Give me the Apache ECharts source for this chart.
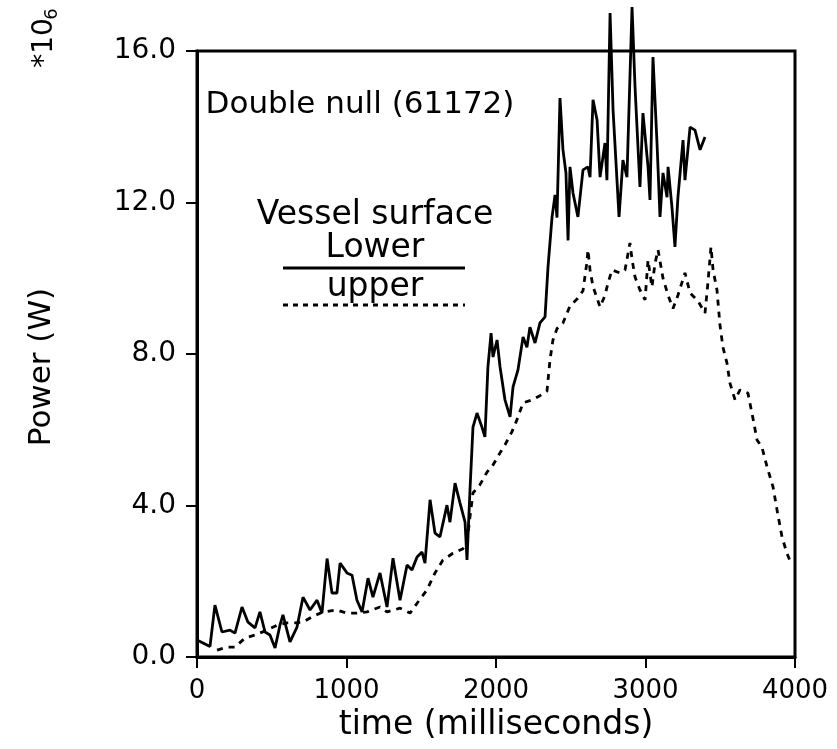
<!DOCTYPE html>
<html>
<head>
<meta charset="utf-8">
<script src="https://cdn.jsdelivr.net/npm/echarts@6/dist/echarts.min.js"></script>
<style>
html,body{margin:0;padding:0;background:#fff;}
#chart{width:837px;height:749px;}
</style>
</head>
<body>
<div id="chart"></div>
<script>
// time (ms) and power (*10^6 W)
const lowerTime = [0,87,120,167,220,254,301,341,388,421,455,488,522,555,575,622,669,709,756,803,836,870,903,936,957,1003,1037,1070,1104,1144,1177,1224,1271,1311,1358,1405,1438,1472,1505,1525,1559,1592,1625,1672,1692,1726,1759,1793,1806,1826,1846,1873,1906,1926,1946,1967,1980,2007,2027,2060,2094,2114,2147,2181,2207,2227,2261,2294,2328,2348,2375,2395,2408,2428,2448,2468,2482,2495,2515,2548,2582,2615,2629,2649,2676,2696,2729,2742,2763,2783,2823,2849,2876,2910,2930,2963,2983,3017,3030,3050,3077,3097,3117,3144,3151,3177,3197,3217,3251,3264,3298,3331,3365,3398];
const lowerPower = [0.45,0.28,1.37,0.66,0.71,0.63,1.32,0.92,0.77,1.19,0.66,0.58,0.24,0.84,1.11,0.40,0.79,1.58,1.24,1.50,1.16,2.60,1.69,1.69,2.48,2.22,2.16,1.50,1.19,2.08,1.58,2.22,1.32,2.61,1.50,2.43,2.30,2.64,2.77,2.48,4.15,3.27,3.17,4.01,3.56,4.59,4.07,3.56,2.56,4.41,6.07,6.44,6.07,5.81,7.66,8.55,7.92,8.37,7.66,6.79,6.34,7.13,7.58,8.45,8.18,8.71,8.29,8.82,8.98,10.30,11.62,12.20,11.60,14.76,13.39,12.78,11.00,12.94,12.25,11.62,12.86,12.94,12.67,14.71,14.18,12.67,13.57,12.59,17.00,14.44,11.62,13.12,12.67,17.16,15.05,12.41,14.36,12.94,12.07,15.84,13.57,11.62,12.78,12.14,12.94,11.88,10.83,12.14,13.65,12.59,13.99,13.91,13.39,13.73];

const upperTime = [134,201,254,321,388,468,535,602,656,709,769,843,936,1003,1070,1137,1224,1271,1358,1425,1472,1538,1592,1645,1712,1779,1806,1826,1846,1893,1940,1980,2027,2060,2107,2140,2181,2241,2294,2341,2361,2381,2408,2448,2495,2542,2582,2609,2615,2629,2649,2696,2729,2749,2776,2829,2863,2896,2910,2930,2963,2997,3017,3043,3064,3084,3117,3151,3184,3217,3264,3298,3351,3398,3418,3438,3452,3478,3498,3518,3545,3565,3599,3632,3685,3719,3746,3779,3813,3853,3880,3913,3946,3973];
const upperPower = [0.18,0.26,0.26,0.50,0.58,0.71,0.84,0.90,0.90,0.92,1.06,1.19,1.24,1.16,1.16,1.19,1.32,1.19,1.29,1.16,1.42,1.77,2.22,2.56,2.74,2.86,3.00,3.70,4.33,4.55,4.88,5.07,5.39,5.60,5.95,6.26,6.71,6.79,6.90,7.02,7.84,8.37,8.67,8.82,9.27,9.45,9.67,10.45,10.75,10.22,9.78,9.24,9.55,9.87,10.22,10.14,10.22,10.93,10.50,10.03,9.69,9.43,10.48,9.77,10.40,10.75,10.00,9.55,9.20,9.55,10.14,9.61,9.40,9.08,9.90,10.83,10.22,9.69,8.77,8.18,7.76,7.23,6.79,7.05,6.97,6.30,5.73,5.54,5.02,4.49,3.88,3.17,2.74,2.48];

const yTicks = [0, 4, 8, 12, 16];
const xTicks = [0, 1000, 2000, 3000, 4000];

const FONT = 'DejaVu Sans';
const chart = echarts.init(document.getElementById('chart'));
const pair = (ts, vs) => ts.map((t, i) => [t, vs[i]]);

chart.setOption({
  backgroundColor: '#ffffff',
  animation: false,
  grid: {left: 197, right: 42, top: 51, bottom: 92, show: true, borderColor: '#000', borderWidth: 3, backgroundColor: 'transparent'},
  xAxis: {
    type: 'value', min: xTicks[0], max: xTicks[xTicks.length-1], interval: 1000,
    axisLine: {show: true, lineStyle: {color: '#000', width: 3}},
    axisTick: {show: true, length: 11, lineStyle: {color: '#000', width: 2}},
    axisLabel: {color: '#000', fontFamily: FONT, fontSize: 26, margin: 21, formatter: v => String(v)},
    splitLine: {show: false},
    name: 'time (milliseconds)', nameLocation: 'middle', nameGap: 44,
    nameTextStyle: {color: '#000', fontFamily: FONT, fontSize: 33}
  },
  yAxis: {
    type: 'value', min: yTicks[0], max: yTicks[yTicks.length-1], interval: 4,
    axisLine: {show: true, lineStyle: {color: '#000', width: 3}},
    axisTick: {show: true, length: 11, lineStyle: {color: '#000', width: 2}},
    axisLabel: {color: '#000', fontFamily: FONT, fontSize: 28, margin: 21, formatter: v => v.toFixed(1)},
    splitLine: {show: false}
  },
  series: [
    {name: 'Lower', type: 'line', data: pair(lowerTime, lowerPower), showSymbol: false, clip: false,
     lineStyle: {color: '#000', width: 2.8}},
    {name: 'upper', type: 'line', data: pair(upperTime, upperPower), showSymbol: false, clip: false,
     lineStyle: {color: '#000', width: 2.8, type: [6, 6]}}
  ],
  graphic: [
    {type: 'text', x: 360, y: 105, style: {text: 'Double null (61172)', font: '31px "DejaVu Sans"', fill: '#000', textAlign: 'center', textVerticalAlign: 'middle'}},
    {type: 'text', x: 375, y: 215, style: {text: 'Vessel surface', font: '33px "DejaVu Sans"', fill: '#000', textAlign: 'center', textVerticalAlign: 'middle'}},
    {type: 'text', x: 375, y: 248, style: {text: 'Lower', font: '33px "DejaVu Sans"', fill: '#000', textAlign: 'center', textVerticalAlign: 'middle'}},
    {type: 'line', shape: {x1: 283, y1: 268, x2: 465, y2: 268}, style: {stroke: '#000', lineWidth: 3}},
    {type: 'text', x: 375, y: 287, style: {text: 'upper', font: '33px "DejaVu Sans"', fill: '#000', textAlign: 'center', textVerticalAlign: 'middle'}},
    {type: 'line', shape: {x1: 283, y1: 305, x2: 465, y2: 305}, style: {stroke: '#000', lineWidth: 3, lineDash: [5, 5]}},
    {type: 'text', x: 42, y: 367, rotation: Math.PI/2, style: {text: 'Power (W)', font: '31px "DejaVu Sans"', fill: '#000', textAlign: 'center', textVerticalAlign: 'middle'}},
    {type: 'text', x: 45, y: 43, rotation: Math.PI/2, style: {text: '*10', font: '28px "DejaVu Sans"', fill: '#000', textAlign: 'center', textVerticalAlign: 'middle'}},
    {type: 'text', x: 52, y: 14, rotation: Math.PI/2, style: {text: '6', font: '18px "DejaVu Sans"', fill: '#000', textAlign: 'center', textVerticalAlign: 'middle'}}
  ]
});
</script>
</body>
</html>
